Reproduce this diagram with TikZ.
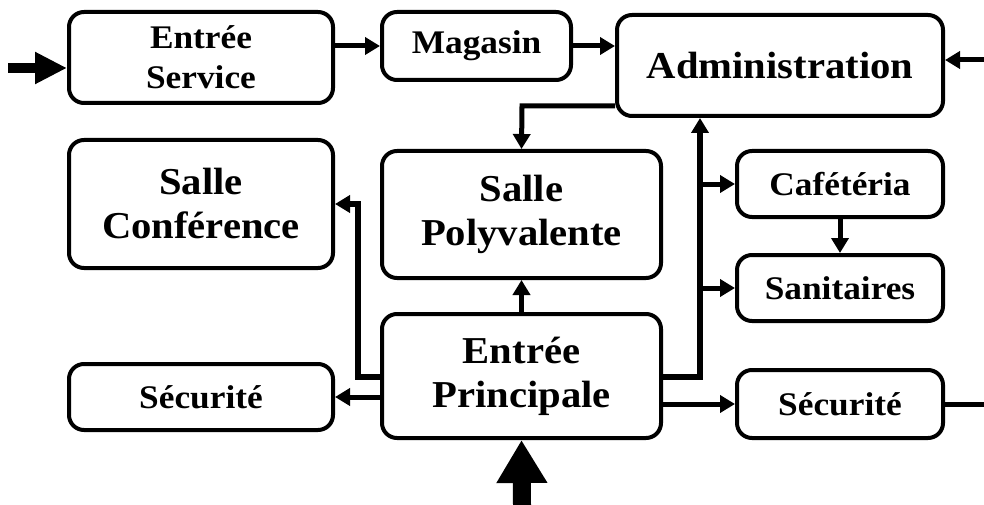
\documentclass[tikz,border=0pt]{standalone}
\usepackage{fontspec}
\setmainfont{Liberation Serif}[FakeStretch=1.07]
\usetikzlibrary{arrows.meta}
\tikzset{
	room/.style={draw, line width=4pt, rounded corners=15pt, align=center, inner sep=0pt,
		font=\bfseries\fontsize{33}{40}\selectfont},
	bigroom/.style={room, font=\bfseries\fontsize{38}{44}\selectfont},
	link/.style={line width=5pt, -{Triangle[width=17pt,length=15pt]}},
	trunk/.style={link, line width=6pt},
	plain/.style={line width=5pt}
}
\begin{document}
\begin{tikzpicture}[x=1pt,y=-1pt]
	\useasboundingbox (0,0) rectangle (984,505);
	\node[room, minimum width=264pt, minimum height=91pt] (1) at (201,57.5) {Entrée\\Service};
	\node[room, minimum width=189pt, minimum height=68pt] (2) at (476.5,46) {Magasin};
	\node[bigroom, minimum width=326pt, minimum height=101pt] (3) at (780,65.5) {Administration};
	\node[bigroom, minimum width=264pt, minimum height=128pt] (4) at (201,204) {Salle\\Conférence};
	\node[bigroom, minimum width=279pt, minimum height=127pt] (5) at (521.5,214.5) {Salle\\Polyvalente};
	\node[room, minimum width=206pt, minimum height=66pt] (6) at (840,184) {Cafétéria};
	\node[room, minimum width=206pt, minimum height=66pt] (7) at (840,288) {Sanitaires};
	\node[room, minimum width=264pt, minimum height=66pt] (8) at (201,397) {Sécurité};
	\node[bigroom, minimum width=279pt, minimum height=124pt] (9) at (521.5,376) {Entrée\\Principale};
	\node[room, minimum width=206pt, minimum height=68pt] (10) at (840,404) {Sécurité};
	% entries from outside
	\coordinate (in1) at (8,68);
	\coordinate (in2) at (984,60);
	\coordinate (in3) at (522,505);
	\coordinate (out1) at (984,404);
	% corners of the connectors
	\coordinate (j1) at (522,106);
	\coordinate (j2) at (700,377);
	\coordinate (j3) at (358,377);
	\draw[line width=10pt, -{Triangle[width=30pt,length=32pt]}] (in1) -- (in1 -| 1.west);
	\draw[line width=18pt, -{Triangle[width=48pt,length=43pt]}] (in3) -- (9.south);
	\draw[link] (in2) -- (in2 -| 3.east);
	\draw[link] (2.west -| 1.east) -- (2.west);
	\draw[link] (2.east) -- (2.east -| 3.west);
	\draw[link] (j1 -| 3.west) -- (j1) -- (5.north);
	\draw[link] (9.north) -- (5.south);
	\draw[trunk] (j2 -| 9.east) -- (j2) -- (j2 |- 3.south);
	\draw[link] (6.west -| j2) -- (6.west);
	\draw[link] (7.west -| j2) -- (7.west);
	\draw[link] (6.south) -- (7.north);
	\draw[link] (10.west -| 9.east) -- (10.west);
	\draw[plain] (10.east) -- (10.east -| out1);
	\draw[link] (8.east -| 9.west) -- (8.east);
	\draw[trunk] (j3 -| 9.west) -- (j3) -- (j3 |- 4.east) -- (4.east);
\end{tikzpicture}
\end{document}
